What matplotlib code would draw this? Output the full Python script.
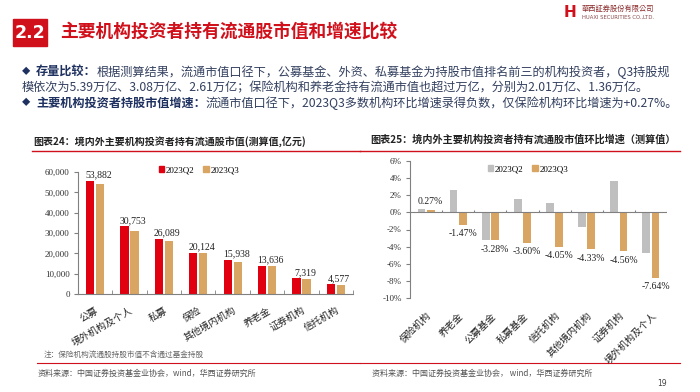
import matplotlib
matplotlib.use("Agg")
import matplotlib.pyplot as plt
from matplotlib.patches import Rectangle, Patch
from matplotlib.ticker import FuncFormatter
import numpy as np

plt.rcParams['font.family'] = ['Noto Sans CJK SC', 'DejaVu Sans']

# ---- data ---------------------------------------------------------------
cats_left = ['公募', '境外机构及个人', '私募', '保险', '其他境内机构', '养老金', '证券机构', '信托机构']
q2_left = [55700, 33300, 27060, 20070, 16660, 13840, 7670, 4770]
q3_left = [53882, 30753, 26089, 20124, 15938, 13636, 7319, 4577]

cats_right = ['保险机构', '养老金', '公募基金', '私募基金', '信托机构', '其他境内机构', '证券机构', '境外机构及个人']
q2_right = [0.35, 2.65, -3.2, 1.55, 1.1, -1.75, 3.65, -4.7]
q3_right = [0.27, -1.47, -3.28, -3.60, -4.05, -4.33, -4.56, -7.64]

series = ['2023Q2', '2023Q3']

RED = '#E00010'
TAN = '#D8A662'
GREY = '#BFBFBF'
AXC = '#808080'
NAVY = '#1F3160'
TXT = '#33405F'
SERIF = ['Liberation Serif', 'Noto Sans CJK SC']

fig = plt.figure(figsize=(7.0, 3.92), dpi=100)

# overlay in pixel coordinates for slide decorations
bg = fig.add_axes([0, 0, 1, 1], zorder=0)
bg.set_xlim(0, 700)
bg.set_ylim(392, 0)
bg.axis('off')

# header
bg.add_patch(Rectangle((13, 19), 34, 27, color='#D0101B'))
bg.text(30, 33, '2.2', color='white', fontsize=12.5, fontweight='bold',
        ha='center', va='center', family=['DejaVu Sans'])
bg.text(60, 33, '主要机构投资者持有流通股市值和增速比较', color='#D0101B',
        fontsize=12.8, fontweight='bold', ha='left', va='center')

# logo
bg.text(570, 12, 'H', color='#D0101B', fontsize=11, fontweight='bold',
        ha='center', va='center', family=['DejaVu Sans'])
bg.text(582, 9, '華西証券股份有限公司', color='#8a2a2a', fontsize=5.2,
        ha='left', va='center', family=['Noto Sans CJK TC', 'DejaVu Sans'])
bg.text(582, 17, 'HUAXI SECURITIES CO.,LTD.', color='#8a4a4a', fontsize=3.8,
        ha='left', va='center', family=['DejaVu Sans'])

# bullet text
FS = 8.75

def bullet_line(y, bold, rest):
    bg.text(22, y, '◆', color=NAVY, fontsize=6, ha='left', va='center')
    t = bg.text(36, y, bold, color=NAVY, fontsize=FS, fontweight='bold',
                ha='left', va='center')
    bg.annotate(rest, xy=(1, 0.5), xycoords=t, color=TXT, fontsize=FS,
                ha='left', va='center')

bullet_line(72, '存量比较：', '根据测算结果，流通市值口径下，公募基金、外资、私募基金为持股市值排名前三的机构投资者，Q3持股规')
bg.text(22, 88, '模依次为5.39万亿、3.08万亿、2.61万亿；保险机构和养老金持有流通市值也超过万亿，分别为2.01万亿、1.36万亿。',
        color=TXT, fontsize=FS, ha='left', va='center')
bullet_line(103, '主要机构投资者持股市值增速：', '流通市值口径下，2023Q3多数机构环比增速录得负数，仅保险机构环比增速为+0.27%。')

# chart titles and rules
bg.text(33, 142, '图表24：境内外主要机构投资者持有流通股市值(测算值,亿元)', color='#222222',
        fontsize=7.2, fontweight='bold', ha='left', va='center')
bg.plot([32, 360], [150.5, 150.5], color='#D0101B', lw=1.0)
bg.text(370, 139, '图表25：境内外主要机构投资者持有流通股市值环比增速（测算值）', color='#222222',
        fontsize=7.3, fontweight='bold', ha='left', va='center')
bg.plot([360, 680], [150.5, 150.5], color='#D0101B', lw=1.0)

bg.text(44, 355, '注：保险机构流通股持股市值不含通过基金持股', color='#666666',
        fontsize=5.5, style='italic', ha='left', va='center')
bg.plot([37, 360], [362.5, 362.5], color='#D0101B', lw=0.8)
bg.plot([360, 680], [362.5, 362.5], color='#D0101B', lw=0.8)
bg.text(38, 373, '资料来源：中国证券投资基金业协会，wind，华西证券研究所', color='#555555',
        fontsize=5.8, style='italic', ha='left', va='center')
bg.text(372, 373, '资料来源：中国证券投资基金业协会， wind，华西证券研究所', color='#555555',
        fontsize=5.8, style='italic', ha='left', va='center')
bg.text(662, 383, '19', color='#444444', fontsize=5.5, ha='center', va='center',
        family=['DejaVu Sans'])

w = 0.24
off = 0.145

# ---- left chart ---------------------------------------------------------
ax = fig.add_axes([78 / 700, 1 - 294 / 392, 275 / 700, 122 / 392], zorder=2)
ax.patch.set_alpha(0)
x = np.arange(len(cats_left))
ax.bar(x - off, q2_left, width=w, color=RED)
ax.bar(x + off, q3_left, width=w, color=TAN)
for i, v in enumerate(q3_left):
    ax.annotate(f'{v:,}', xy=(i + 0.1, max(q2_left[i], v)), xytext=(0, 1),
                textcoords='offset points', ha='center', va='bottom',
                fontsize=7, family=SERIF, color='#222222')
ax.set_xlim(-0.5, len(cats_left) - 0.5)
ax.set_ylim(0, 60000)
ax.set_yticks(np.arange(0, 60001, 10000))
ax.yaxis.set_major_formatter(FuncFormatter(lambda v, p: f'{int(v):,}'))
for lab in ax.get_yticklabels():
    lab.set_family(SERIF)
ax.tick_params(axis='y', labelsize=6.5, length=3, color=AXC, labelcolor='#333333', pad=3)
ax.set_xticks(x)
ax.set_xticklabels(cats_left, rotation=30, ha='right', rotation_mode='anchor', fontsize=7)
ax.tick_params(axis='x', length=0, pad=8, labelcolor='#222222')
ax.set_xticks(np.arange(-0.5, len(cats_left)), minor=True)
ax.tick_params(axis='x', which='minor', length=3, direction='in', color=AXC)
for s in ['top', 'right']:
    ax.spines[s].set_visible(False)
for s in ['left', 'bottom']:
    ax.spines[s].set_color(AXC)
    ax.spines[s].set_linewidth(0.8)
ax.legend([Patch(color=RED), Patch(color=TAN)], series,
          loc='center', bbox_to_anchor=(199 / 700, 1 - 170 / 392),
          bbox_transform=fig.transFigure, ncol=2, frameon=False,
          handlelength=0.6, handleheight=0.6, handletextpad=0.2,
          columnspacing=1.0, prop={'family': SERIF, 'size': 6.5})

# ---- right chart --------------------------------------------------------
ax2 = fig.add_axes([410 / 700, 1 - 298 / 392, 257 / 700, 137 / 392], zorder=2)
ax2.patch.set_alpha(0)
x2 = np.arange(len(cats_right))
ax2.bar(x2 - off, q2_right, width=w, color=GREY)
ax2.bar(x2 + off, q3_right, width=w, color=TAN)
for i, v in enumerate(q3_right):
    if v >= 0:
        ax2.annotate(f'{v:.2f}%', xy=(i + off, v), xytext=(0, 3),
                     textcoords='offset points', ha='center', va='bottom',
                     fontsize=7, family=SERIF, color='#222222')
    else:
        ax2.annotate(f'{v:.2f}%', xy=(i + off, v), xytext=(0, -3),
                     textcoords='offset points', ha='center', va='top',
                     fontsize=7, family=SERIF, color='#222222')
ax2.set_xlim(-0.5, len(cats_right) - 0.5)
ax2.set_ylim(-10, 6)
ax2.set_yticks(np.arange(-10, 7, 2))
ax2.yaxis.set_major_formatter(FuncFormatter(lambda v, p: f'{int(v)}%'))
for lab in ax2.get_yticklabels():
    lab.set_family(SERIF)
ax2.tick_params(axis='y', labelsize=6.5, length=3, color=AXC, labelcolor='#333333', pad=3)
ax2.set_xticks(x2)
ax2.set_xticklabels(cats_right, rotation=45, ha='right', rotation_mode='anchor', fontsize=7)
ax2.tick_params(axis='x', length=0, pad=9, labelcolor='#222222')
ax2.axhline(0, color=AXC, lw=0.8)
ax2.vlines(np.arange(0.5, len(cats_right)), 0, 0.3, color=AXC, lw=0.8)
for s in ['top', 'right', 'bottom']:
    ax2.spines[s].set_visible(False)
ax2.spines['left'].set_color(AXC)
ax2.spines['left'].set_linewidth(0.8)
ax2.legend([Patch(color=GREY), Patch(color=TAN)], series,
           loc='center', bbox_to_anchor=(528 / 700, 1 - 169 / 392),
           bbox_transform=fig.transFigure, ncol=2, frameon=False,
           handlelength=0.6, handleheight=0.6, handletextpad=0.2,
           columnspacing=1.0, prop={'family': SERIF, 'size': 6.5})

fig.savefig('out.png', dpi=100, facecolor='white')
